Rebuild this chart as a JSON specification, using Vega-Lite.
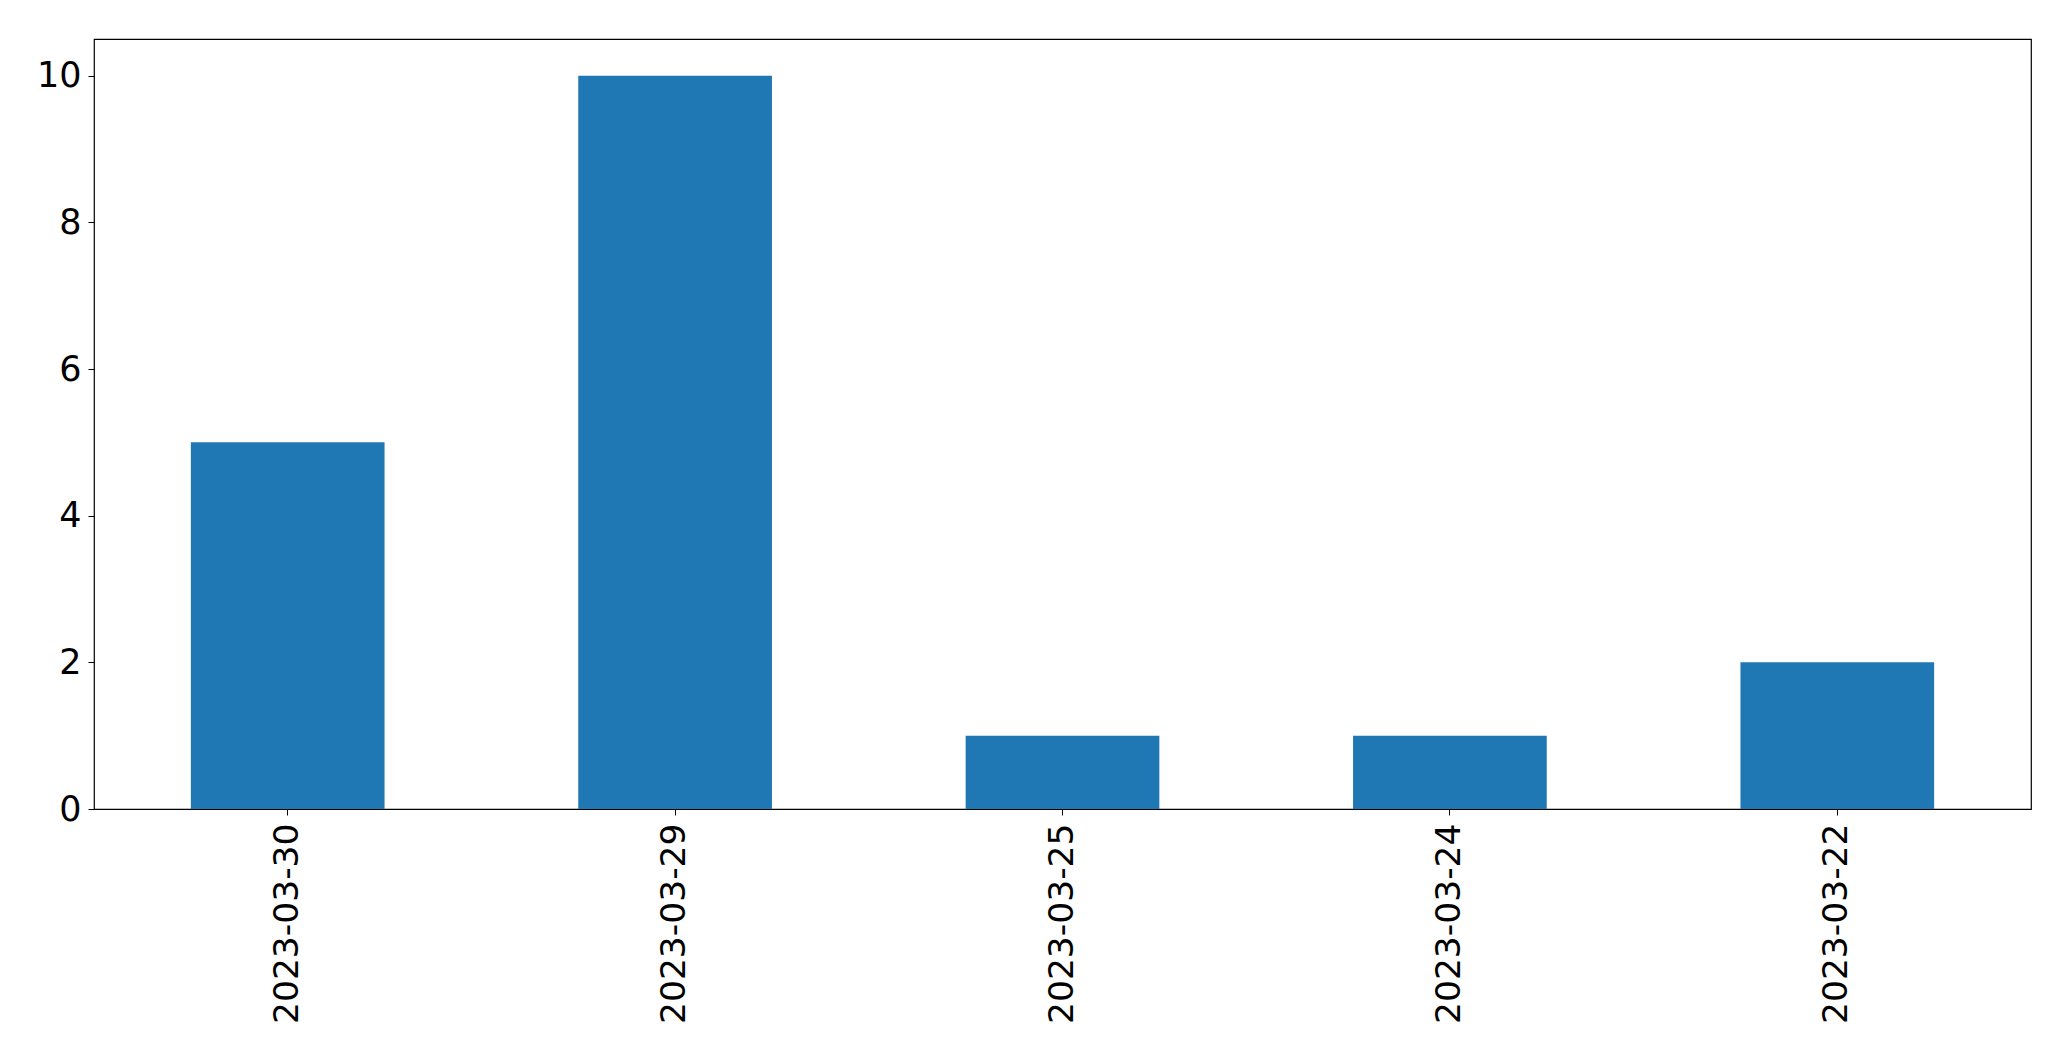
{
  "$schema": "https://vega.github.io/schema/vega-lite/v6.json",
  "width": 1937,
  "height": 770,
  "autosize": {"type": "none"},
  "padding": {"left": 94, "top": 39, "right": 40, "bottom": 252},
  "background": "white",
  "data": {
    "values": [
      {"date": "2023-03-30", "count": 5},
      {"date": "2023-03-29", "count": 10},
      {"date": "2023-03-25", "count": 1},
      {"date": "2023-03-24", "count": 1},
      {"date": "2023-03-22", "count": 2}
    ]
  },
  "mark": {"type": "bar", "color": "#1f77b4"},
  "encoding": {
    "x": {
      "field": "date",
      "type": "nominal",
      "sort": null,
      "scale": {"paddingInner": 0.5, "paddingOuter": 0.25},
      "axis": {
        "title": null,
        "labelAngle": 270,
        "labelAlign": "right",
        "labelBaseline": "middle",
        "labelFont": "DejaVu Sans",
        "labelFontSize": 34.5,
        "labelColor": "black",
        "labelPadding": 8,
        "labelLimit": 0,
        "tickSize": 6,
        "tickColor": "black",
        "domain": false,
        "grid": false
      }
    },
    "y": {
      "field": "count",
      "type": "quantitative",
      "scale": {"domain": [0, 10.5], "nice": false, "zero": true},
      "axis": {
        "title": null,
        "values": [0, 2, 4, 6, 8, 10],
        "labelFont": "DejaVu Sans",
        "labelFontSize": 35,
        "labelColor": "black",
        "labelPadding": 7,
        "tickSize": 6,
        "tickColor": "black",
        "domain": false,
        "grid": false
      }
    }
  },
  "config": {
    "view": {"stroke": "black", "strokeWidth": 1.2}
  }
}
